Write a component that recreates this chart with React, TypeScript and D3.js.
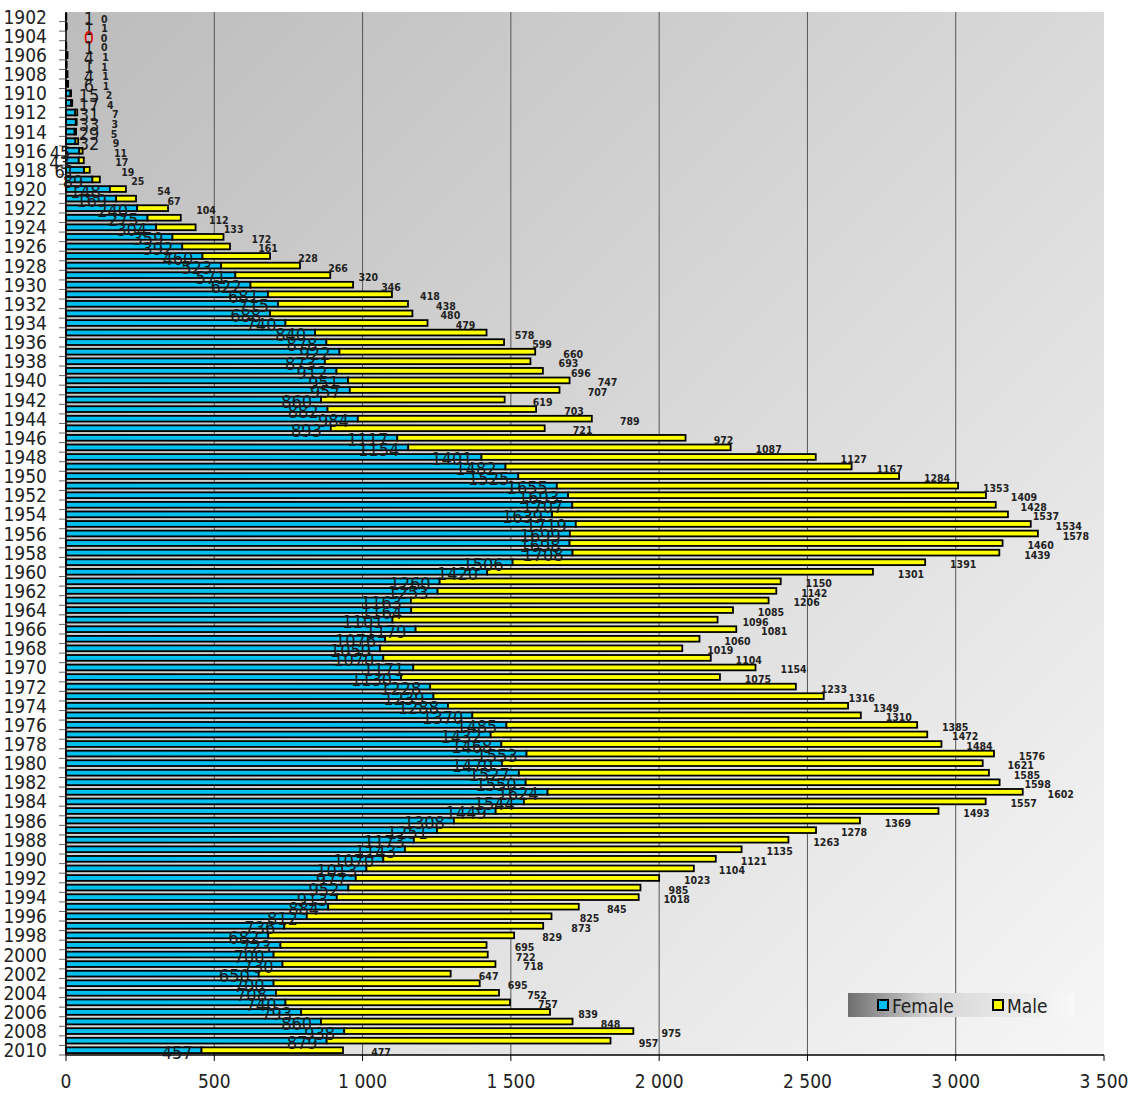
import * as React from 'react'
import { scaleLinear, scaleBand, range, format } from 'd3'

const years = range(1902, 2011)

const female = [
  1, 1, 0, 1, 4, 1, 4, 6, 15, 17,
  31, 33, 29, 32, 45, 43, 61, 89, 148, 169,
  240, 275, 304, 359, 392, 460, 523, 571, 622, 681,
  715, 688, 740, 840, 878, 922, 873, 912, 951, 957,
  860, 882, 984, 893, 1117, 1154, 1401, 1482, 1525, 1655,
  1693, 1707, 1639, 1719, 1699, 1698, 1708, 1506, 1420, 1260,
  1253, 1163, 1164, 1101, 1179, 1076, 1059, 1070, 1171, 1130,
  1228, 1239, 1288, 1370, 1485, 1432, 1468, 1553, 1470, 1527,
  1550, 1624, 1544, 1449, 1308, 1251, 1173, 1143, 1070, 1013,
  977, 952, 913, 884, 812, 736, 682, 723, 700, 730,
  650, 700, 708, 740, 793, 860, 938, 879, 457,
]

const male = [
  0, 1, 0, 0, 1, 1, 1, 1, 2, 4,
  7, 3, 5, 9, 11, 17, 19, 25, 54, 67,
  104, 112, 133, 172, 161, 228, 266, 320, 346, 418,
  438, 480, 479, 578, 599, 660, 693, 696, 747, 707,
  619, 703, 789, 721, 972, 1087, 1127, 1167, 1284, 1353,
  1409, 1428, 1537, 1534, 1578, 1460, 1439, 1391, 1301, 1150,
  1142, 1206, 1085, 1096, 1081, 1060, 1019, 1104, 1154, 1075,
  1233, 1316, 1349, 1310, 1385, 1472, 1484, 1576, 1621, 1585,
  1598, 1602, 1557, 1493, 1369, 1278, 1263, 1135, 1121, 1104,
  1023, 985, 1018, 845, 825, 873, 829, 695, 722, 718,
  647, 695, 752, 757, 839, 848, 975, 957, 477,
]

const xTicks = [0, 500, 1000, 1500, 2000, 2500, 3000, 3500]
const seriesNames = ['Female', 'Male']
const seriesColors = ['#00c0f0', '#ffff00']

const width = 1136
const height = 1095
const left = 66
const right = 1104
const top = 12
const bottom = 1055

const condensed = "'DejaVu Sans Condensed', 'DejaVu Sans', sans-serif"

export default function App() {
  const x = scaleLinear().domain([0, 3500]).range([left, right])
  const y = scaleBand<number>().domain(years).range([top, bottom]).paddingInner(0.4).paddingOuter(0.2)
  const step = y.step()
  const fmt = (v: number) => format(',')(v).replace(/,/g, ' ')

  return (
    <svg
      width={width}
      height={height}
      style={{ position: 'absolute', left: 0, top: 0, display: 'block', background: '#fff' }}
    >
      <defs>
        <linearGradient id="plotBg" x1="0" y1="0" x2="1" y2="1">
          <stop offset="0" stopColor="#bcbcbc" />
          <stop offset="1" stopColor="#f6f6f6" />
        </linearGradient>
        <linearGradient id="legendBg" x1="0" y1="0" x2="1" y2="0">
          <stop offset="0" stopColor="#6f6f6f" />
          <stop offset="0.35" stopColor="#d4d4d4" />
          <stop offset="1" stopColor="#f9f9f9" />
        </linearGradient>
      </defs>

      <rect x={left} y={top} width={right - left} height={bottom - top} fill="url(#plotBg)" />

      {xTicks.slice(1, -1).map((t) => (
        <line key={t} x1={x(t)} x2={x(t)} y1={top} y2={bottom} stroke="#555" strokeWidth={1} />
      ))}

      {/* y ticks */}
      {years.map((yr) => (
        <line key={yr} x1={left - 7} x2={left} y1={(y(yr) ?? 0) + y.bandwidth() + (step - y.bandwidth()) / 2} y2={(y(yr) ?? 0) + y.bandwidth() + (step - y.bandwidth()) / 2} stroke="#666" strokeWidth={1} />
      ))}

      {/* bars */}
      {years.map((yr, i) => {
        const by = y(yr) ?? 0
        const f = female[i]
        const m = male[i]
        return (
          <g key={yr}>
            <rect x={x(0)} y={by} width={x(f) - x(0)} height={y.bandwidth()} fill={seriesColors[0]} stroke="#000" strokeWidth={1.8} />
            <rect x={x(f)} y={by} width={x(f + m) - x(f)} height={y.bandwidth()} fill={seriesColors[1]} stroke="#000" strokeWidth={1.8} />
          </g>
        )
      })}

      {/* axes */}
      <line x1={left} x2={left} y1={top} y2={bottom} stroke="#000" strokeWidth={1.5} />
      <line x1={left} x2={right} y1={bottom} y2={bottom} stroke="#000" strokeWidth={1.5} />
      {xTicks.map((t) => (
        <g key={t}>
          <line x1={x(t)} x2={x(t)} y1={bottom} y2={bottom + 6} stroke="#000" strokeWidth={1} />
          <text x={x(t)} y={bottom + 26} textAnchor="middle" dominantBaseline="central" fontFamily={condensed} fontStretch="condensed" fontSize={19} fill="#222">
            {fmt(t)}
          </text>
        </g>
      ))}
      {years.filter((yr) => (yr - 1902) % 2 === 0).map((yr) => (
        <text key={yr} x={left - 19} y={(y(yr) ?? 0) + y.bandwidth() / 2} textAnchor="end" dominantBaseline="central" fontFamily={condensed} fontStretch="condensed" fontSize={19} fill="#222">
          {yr}
        </text>
      ))}

      {/* male labels */}
      {years.map((yr, i) => (
        <text key={yr} x={x(female[i] + male[i]) + 38} y={(y(yr) ?? 0) + y.bandwidth() / 2 + 2} textAnchor="middle" dominantBaseline="central" fontFamily={condensed} fontStretch="condensed" fontWeight="bold" fontSize={10.5} fill="#222">
          {male[i]}
        </text>
      ))}

      {/* female labels */}
      {years.map((yr, i) => {
        const f = female[i]
        const small = f < 40
        return (
          <text
            key={yr}
            x={small ? x(0) + 23 : x(f) - 9}
            y={(y(yr) ?? 0) + y.bandwidth() / 2 + 2}
            textAnchor={small ? 'middle' : 'end'}
            dominantBaseline="central"
            fontFamily={condensed}
            fontStretch="condensed"
            fontSize={18}
            fill={f === 0 ? '#e00000' : '#1a1a1a'}
          >
            {f}
          </text>
        )
      })}

      {/* legend */}
      <g transform="translate(848, 993)">
        <rect x={0} y={0} width={227} height={24} fill="url(#legendBg)" />
        {seriesNames.map((name, i) => (
          <g key={name} transform={`translate(${30 + i * 115}, 0)`}>
            <rect x={0} y={7} width={10} height={10} fill={seriesColors[i]} stroke="#000" strokeWidth={2} />
            <text x={14} y={12.5} dominantBaseline="central" fontFamily={condensed} fontSize={19} fill="#222">
              {name}
            </text>
          </g>
        ))}
      </g>
    </svg>
  )
}
